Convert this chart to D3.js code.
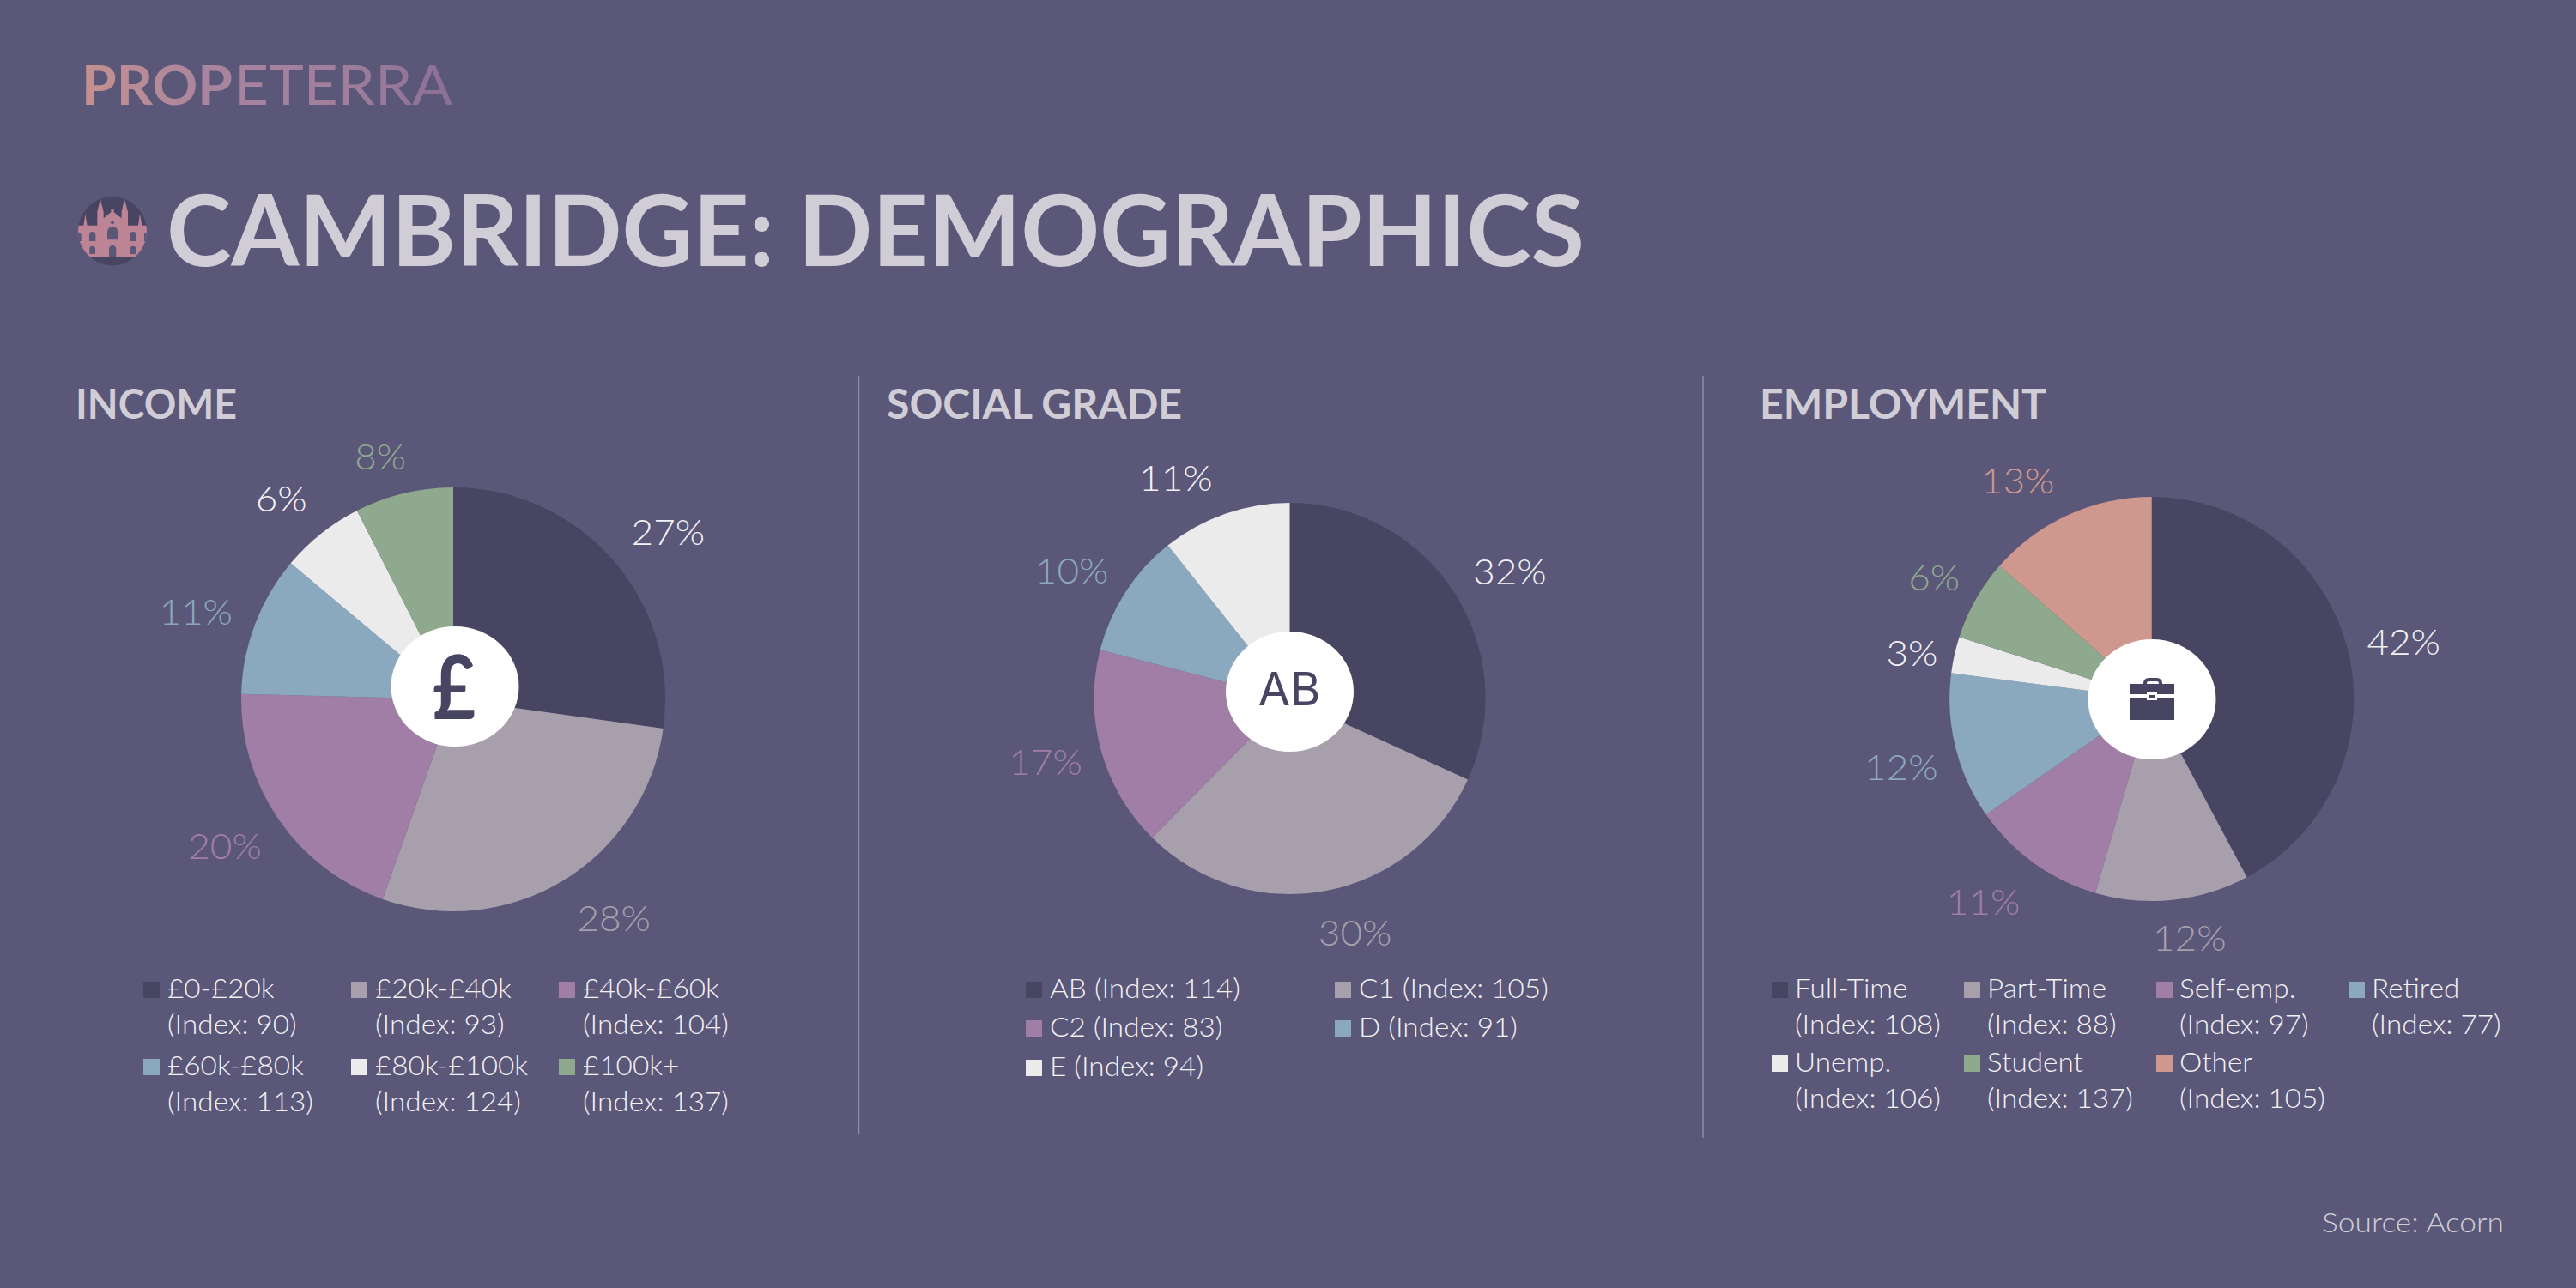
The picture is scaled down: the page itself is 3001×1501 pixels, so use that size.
<!DOCTYPE html>
<html>
<head>
<meta charset="utf-8">
<title>Cambridge: Demographics</title>
<script src="https://d3js.org/d3.v7.min.js"></script>
<style>
  html, body { margin: 0; padding: 0; background: #5a5778; overflow: hidden; }
  text { font-family: Lato, sans-serif; }
</style>
</head>
<body>
<svg id="chart" width="3001" height="1501"></svg>
<script>
// values
// labels are the printed whole percents, shares are the slice sizes measured from the angles
const incomeCats = ["£0-£20k", "£20k-£40k", "£40k-£60k", "£60k-£80k", "£80k-£100k", "£100k+"];
const incomeLabels = [27, 28, 20, 11, 6, 8];
const incomeShares = [27.2, 28.2, 20, 10.7, 6.4, 7.5];
const incomeIndex = [90, 93, 104, 113, 124, 137];

const gradeCats = ["AB", "C1", "C2", "D", "E"];
const gradeLabels = [32, 30, 17, 10, 11];
const gradeShares = [31.8, 30.6, 16.6, 10.3, 10.7];
const gradeIndex = [114, 105, 83, 91, 94];

const employCats = ["Full-Time", "Part-Time", "Self-emp.", "Retired", "Unemp.", "Student", "Other"];
const employLabels = [42, 12, 11, 12, 3, 6, 13];
const employShares = [42.2, 12.3, 10.8, 11.75, 2.9, 6.5, 13.55];
const employIndex = [108, 88, 97, 77, 106, 137, 105];

const fills = ["#474561", "#a79fac", "#a07ea5", "#8aa9be", "#ebebeb", "#8ea98d", "#cf988e"];
const labelFills = ["#f2f1f4", "#a79fac", "#a07ea5", "#8aa9be", "#f2f1f4", "#8ea98d", "#cf988e"];

const bg = "#5a5778";
const dark = "#474561";
const heading = "#d0cdd6";
const legendStretch = 1.04;
const labelStretch = 1.05;

const svg = d3.select("#chart");
svg.append("rect").attr("width", 3001).attr("height", 1501).attr("fill", bg);

// stretch a text to the width it has in the picture
function fit(sel, width) {
  sel.attr("textLength", width).attr("lengthAdjust", "spacingAndGlyphs");
  return sel;
}

// logo
const defs = svg.append("defs");
const logoGrad = defs.append("linearGradient").attr("id", "logoGrad")
  .attr("gradientUnits", "userSpaceOnUse")
  .attr("x1", 98).attr("y1", 122).attr("x2", 525).attr("y2", 76);
logoGrad.append("stop").attr("offset", 0).attr("stop-color", "#c5918f");
logoGrad.append("stop").attr("offset", 0.35).attr("stop-color", "#a9849f");
logoGrad.append("stop").attr("offset", 0.7).attr("stop-color", "#a07f9c");
logoGrad.append("stop").attr("offset", 1).attr("stop-color", "#8a6f96");

fit(svg.append("text").attr("x", 95).attr("y", 122).attr("font-size", 64)
  .attr("font-weight", 700).attr("fill", "url(#logoGrad)").text("PROP"), 176);
fit(svg.append("text").attr("x", 273).attr("y", 122).attr("font-size", 64)
  .attr("font-weight", 400).attr("fill", "url(#logoGrad)").text("ETERRA"), 254);

// cathedral badge, path is in its own little coordinate box
defs.append("clipPath").attr("id", "badgeClip")
  .append("circle").attr("cx", 213).attr("cy", 208).attr("r", 120);
const badge = svg.append("g").attr("transform", "translate(60,200) scale(0.3333)");
badge.append("circle").attr("cx", 213).attr("cy", 208).attr("r", 120).attr("fill", dark);
const church = badge.append("g").attr("clip-path", "url(#badgeClip)");
church.append("path").attr("fill", "#bd8496")
  .attr("d", "M80,188H112L118,148L125,188H160V140L171,97L182,140V163L208,142V133H218V142L245,163V140L255,97L267,140V188H303L309,148L316,188H345V298H80Z");
const holes = ["M195,238V212A18,20 0 0 1 232,212V238Z",
  "M132,243V222A11,12 0 0 1 154,222V243Z",
  "M274,243V222A11,12 0 0 1 296,222V243Z",
  "M133,288V270A10,10 0 0 1 153,270V288Z",
  "M275,288V270A10,10 0 0 1 295,270V288Z",
  "M201,300V272A12,14 0 0 1 226,272V300Z",
  "M88,243V222A8,10 0 0 1 104,222V243Z",
  "M324,243V222A8,10 0 0 1 340,222V243Z"];
church.selectAll("path.hole").data(holes).join("path").attr("class", "hole")
  .attr("fill", bg).attr("d", d => d);
church.append("circle").attr("cx", 213).attr("cy", 178).attr("r", 6).attr("fill", bg);

// title
fit(svg.append("text").attr("x", 194).attr("y", 310).attr("font-size", 114)
  .attr("font-weight", 700).attr("fill", heading).text("CAMBRIDGE: DEMOGRAPHICS"), 1652);

// source + dividers
fit(svg.append("text").attr("x", 2917).attr("y", 1436).attr("text-anchor", "end")
  .attr("font-size", 32).attr("font-weight", 300).attr("fill", heading).text("Source: Acorn"), 212);
[[1000.5, 438, 1321], [1984, 438, 1326]].forEach(d => {
  svg.append("line").attr("x1", d[0]).attr("x2", d[0]).attr("y1", d[1]).attr("y2", d[2])
    .attr("stroke", "#8f8da3").attr("stroke-width", 1.5);
});

const pieGen = d3.pie().sort(null).value(d => d);

function drawPie(cfg) {
  const g = svg.append("g").attr("transform", `translate(${cfg.cx},${cfg.cy})`);
  const arc = d3.arc().innerRadius(0).outerRadius(cfg.r);
  const labelArc = d3.arc().innerRadius(cfg.r + 65).outerRadius(cfg.r + 65);
  const slices = pieGen(cfg.shares);

  g.selectAll("path").data(slices).join("path")
    .attr("d", arc).attr("fill", (d, i) => fills[i]);

  // labels were placed by hand in the original so each one gets a small nudge
  g.selectAll("text").data(slices).join("text")
    .attr("transform", (d, i) => {
      const c = labelArc.centroid(d);
      return `translate(${c[0] + cfg.nudge[i][0]},${c[1] + cfg.nudge[i][1]})`;
    })
    .attr("text-anchor", "middle").attr("dy", "0.36em")
    .attr("font-size", 42).attr("font-weight", 300)
    .attr("fill", (d, i) => labelFills[i])
    .text((d, i) => cfg.labels[i] + "%")
    .each(function () {
      fit(d3.select(this), this.getComputedTextLength() * labelStretch);
    });

  // white hub sits a bit off centre in the picture
  svg.append("ellipse").attr("cx", cfg.hubX).attr("cy", cfg.hubY)
    .attr("rx", 74.5).attr("ry", 70).attr("fill", "#fff");
}

function drawHeading(text, x, width) {
  fit(svg.append("text").attr("x", x).attr("y", 488).attr("font-size", 47)
    .attr("font-weight", 700).attr("fill", heading).text(text), width);
}

function drawLegend(cfg) {
  cfg.cats.forEach((c, i) => {
    const col = i % cfg.columns.length;
    const row = Math.floor(i / cfg.columns.length);
    const x = cfg.columns[col];
    const y = cfg.rows[row];
    svg.append("rect").attr("x", x).attr("y", y - 19).attr("width", 19).attr("height", 19)
      .attr("fill", fills[i]);
    const lines = cfg.twoLines
      ? [c, `(Index: ${cfg.index[i]})`]
      : [`${c} (Index: ${cfg.index[i]})`];
    lines.forEach((line, j) => {
      const t = svg.append("text").attr("x", x + cfg.textOffset).attr("y", y + j * 42)
        .attr("font-size", 32).attr("font-weight", 300).attr("fill", "#f2f1f4").text(line);
      fit(t, t.node().getComputedTextLength() * legendStretch);
    });
  });
}

// income
drawHeading("INCOME", 88, 188);
drawPie({ shares: incomeShares, labels: incomeLabels, cx: 528, cy: 815, r: 247, hubX: 530, hubY: 800,
  nudge: [[15, 10], [25, -12], [-9, -6], [-8, 8], [-6, 10], [-12, 20]] });
drawLegend({ cats: incomeCats, index: incomeIndex, twoLines: true, textOffset: 28,
  columns: [167, 409, 651], rows: [1163, 1253] });
fit(svg.append("text").attr("x", 529).attr("y", 838).attr("text-anchor", "middle")
  .attr("font-size", 104).attr("font-weight", 700).attr("fill", dark).text("£"), 50);

// social grade
drawHeading("SOCIAL GRADE", 1033, 344);
drawPie({ shares: gradeShares, labels: gradeLabels, cx: 1502.5, cy: 814, r: 228, hubX: 1502.5, hubY: 806,
  nudge: [[10, 10], [23, -15], [-2, -4], [-8, 10], [-36, 19]] });
drawLegend({ cats: gradeCats, index: gradeIndex, twoLines: false, textOffset: 28,
  columns: [1195, 1555], rows: [1163, 1208, 1254] });
svg.append("text").attr("x", 1502).attr("y", 822).attr("text-anchor", "middle")
  .style("font-family", "Inter").attr("font-size", 54).attr("font-weight", 400)
  .attr("fill", dark).text("AB");

// employment
drawHeading("EMPLOYMENT", 2050, 334);
drawPie({ shares: employShares, labels: employLabels, cx: 2506.7, cy: 814.5, r: 235.5, hubX: 2507, hubY: 815,
  nudge: [[2, 6], [13, -21], [-21, -8], [0, 8], [14, 12], [8, 6], [-32, 19]] });
drawLegend({ cats: employCats, index: employIndex, twoLines: true, textOffset: 27,
  columns: [2064, 2288, 2512, 2736], rows: [1163, 1249] });

// briefcase, relative to its body corner
const brief = svg.append("g").attr("transform", "translate(2481,790)");
brief.append("path").attr("fill", "none").attr("stroke", dark).attr("stroke-width", 4)
  .attr("d", "M18,8V6A4,4 0 0 1 22,2H32A4,4 0 0 1 36,6V8");
brief.append("rect").attr("x", 0).attr("y", 7).attr("width", 52).attr("height", 42).attr("fill", dark);
brief.append("rect").attr("x", 0).attr("y", 19).attr("width", 52).attr("height", 4).attr("fill", "#fff");
brief.append("rect").attr("x", 20).attr("y", 17).attr("width", 12).attr("height", 9).attr("fill", "#fff");
brief.append("rect").attr("x", 23).attr("y", 20).attr("width", 6).attr("height", 3).attr("fill", dark);
</script>
</body>
</html>
